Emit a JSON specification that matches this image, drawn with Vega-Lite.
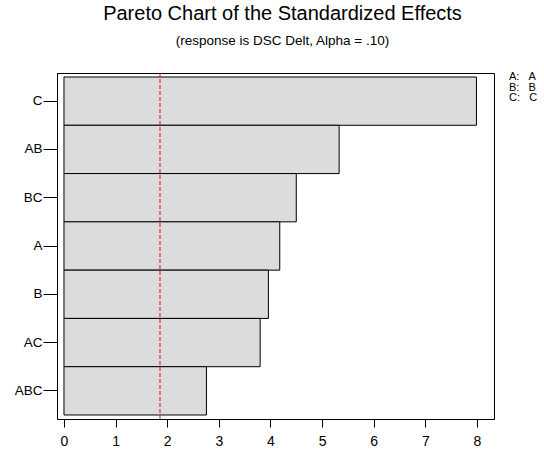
{
  "$schema": "https://vega.github.io/schema/vega-lite/v6.json",
  "width": 437,
  "height": 346,
  "autosize": {"type": "none"},
  "padding": {"left": 57, "top": 73, "right": 50, "bottom": 33},
  "background": "white",
  "config": {
    "font": "Liberation Sans",
    "view": {"stroke": "black", "strokeWidth": 1},
    "axis": {"domainColor": "black", "tickColor": "black", "labelColor": "black", "grid": false, "labelFont": "Liberation Sans"}
  },
  "title": {
    "text": "Pareto Chart of the Standardized Effects",
    "subtitle": "(response is DSC Delt, Alpha = .10)",
    "fontSize": 20,
    "fontWeight": "normal",
    "subtitleFontSize": 13.5,
    "subtitleColor": "black",
    "color": "black",
    "subtitlePadding": 10,
    "anchor": "middle",
    "frame": "group",
    "dx": 7,
    "offset": 24
  },
  "layer": [
    {
      "data": {"values": [
        {"term": "C", "effect": 7.99},
        {"term": "AB", "effect": 5.33},
        {"term": "BC", "effect": 4.5},
        {"term": "A", "effect": 4.18},
        {"term": "B", "effect": 3.96},
        {"term": "AC", "effect": 3.8},
        {"term": "ABC", "effect": 2.76}
      ]},
      "mark": {"type": "bar", "fill": "#dcdcdc", "stroke": "black", "strokeWidth": 1},
      "encoding": {
        "y": {
          "field": "term", "type": "nominal",
          "sort": ["C", "AB", "BC", "A", "B", "AC", "ABC"],
          "scale": {"paddingInner": 0, "paddingOuter": 0.083},
          "axis": {"title": null, "tickSize": 14, "labelPadding": 1, "labelFontSize": 13.5, "domain": true}
        },
        "x": {
          "field": "effect", "type": "quantitative",
          "scale": {"domain": [-0.135, 8.33], "nice": false, "zero": false},
          "axis": {"title": null, "values": [0, 1, 2, 3, 4, 5, 6, 7, 8], "tickSize": 8, "labelPadding": 7, "labelFontSize": 14, "labelFlush": false}
        }
      }
    },
    {
      "data": {"values": [{"crit": 1.86}]},
      "mark": {"type": "rule", "color": "red", "strokeWidth": 1, "strokeDash": [4, 2]},
      "encoding": {"x": {"field": "crit", "type": "quantitative"}}
    },
    {
      "data": {"values": [{"label": "factors"}]},
      "mark": {"type": "point", "opacity": 0},
      "encoding": {
        "shape": {
          "field": "label", "type": "nominal",
          "legend": {
            "title": ["A:\u00a0\u00a0\u00a0A", "B:\u00a0\u00a0\u00a0B", "C:\u00a0\u00a0\u00a0C"],
            "titleFontSize": 11, "titleFontWeight": "normal", "titleColor": "black", "titleLineHeight": 10.5,
            "titleFont": "Liberation Sans", "titlePadding": 0,
            "orient": "none", "legendX": 452, "legendY": -2,
            "symbolSize": 0, "symbolOpacity": 0, "symbolStrokeWidth": 0, "labelOpacity": 0, "labelFontSize": 1,
            "padding": 0
          }
        }
      }
    }
  ]
}
